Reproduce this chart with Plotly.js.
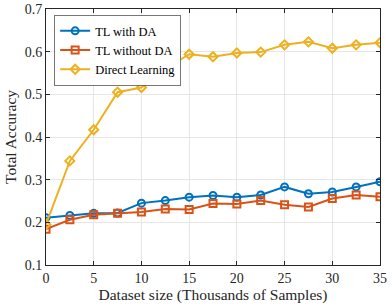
<!DOCTYPE html>
<html><head><meta charset="utf-8">
<script src="https://cdn.plot.ly/plotly-3.0.1.min.js"></script>
<style>html,body{margin:0;padding:0;background:#fff}#chart{width:392px;height:308px}</style>
</head><body><div id="chart"></div>
<script>
const datasetSize = [0, 2.5, 5, 7.5, 10, 12.5, 15, 17.5, 20, 22.5, 25, 27.5, 30, 32.5, 35];
const tlWithDA = [0.211, 0.216, 0.221, 0.222, 0.245, 0.251, 0.259, 0.263, 0.259, 0.264, 0.283, 0.267, 0.271, 0.283, 0.295];
const tlWithoutDA = [0.184, 0.206, 0.218, 0.221, 0.224, 0.231, 0.230, 0.244, 0.243, 0.251, 0.241, 0.236, 0.256, 0.264, 0.260];
const directLearning = [0.195, 0.344, 0.417, 0.505, 0.516, 0.559, 0.594, 0.588, 0.597, 0.599, 0.616, 0.623, 0.608, 0.616, 0.621];
const seriesNames = ['TL with DA', 'TL without DA', 'Direct Learning'];
const xTicks = [0, 5, 10, 15, 20, 25, 30, 35];
const yTicks = [0.1, 0.2, 0.3, 0.4, 0.5, 0.6, 0.7];

const fam = 'Liberation Serif';
const tickFont = {family: fam, size: 14, color: '#262626'};
function tr(y, name, color, symbol) {
  return {x: datasetSize, y: y, name: name, type: 'scatter', mode: 'lines+markers',
    line: {color: color, width: 2},
    marker: {symbol: symbol, size: 7, color: color, line: {color: color, width: 2}}};
}
const data = [
  tr(tlWithDA, seriesNames[0], '#0072BD', 'circle-open'),
  tr(tlWithoutDA, seriesNames[1], '#D95319', 'square-open'),
  tr(directLearning, seriesNames[2], '#EDB120', 'diamond-open')
];
const layout = {
  width: 392, height: 308,
  margin: {l: 46, r: 12, t: 9, b: 43},
  paper_bgcolor: '#fff', plot_bgcolor: '#fff',
  font: tickFont,
  showlegend: true,
  legend: {x: 0.025, y: 0.975, xanchor: 'left', yanchor: 'top', bgcolor: '#fff',
    bordercolor: '#555', borderwidth: 0.8, font: {family: fam, size: 12.5, color: '#000'},
    tracegroupgap: 0, itemwidth: 30},
  xaxis: {range: [0, 35], tickvals: xTicks, ticktext: xTicks.map(String), tickfont: tickFont,
    ticklabeloverflow: 'allow',
    showgrid: true, gridcolor: '#e6e6e6', zeroline: false, showline: true, linecolor: '#262626', linewidth: 1,
    mirror: 'ticks', ticks: 'inside', ticklen: 4, tickcolor: '#262626',
    title: {text: 'Dataset size (Thousands of Samples)', font: {family: fam, size: 15.5, color: '#262626'}, standoff: 4}},
  yaxis: {range: [0.1, 0.7], tickvals: yTicks, ticktext: yTicks.map(v => v.toFixed(1)), tickfont: tickFont,
    ticklabeloverflow: 'allow',
    showgrid: true, gridcolor: '#e6e6e6', zeroline: false, showline: true, linecolor: '#262626', linewidth: 1,
    mirror: 'ticks', ticks: 'inside', ticklen: 4, tickcolor: '#262626',
    title: {text: 'Total Accuracy', font: {family: fam, size: 15.5, color: '#262626'}, standoff: 4}}
};
Plotly.newPlot('chart', data, layout, {displayModeBar: false, staticPlot: true});
</script></body></html>
